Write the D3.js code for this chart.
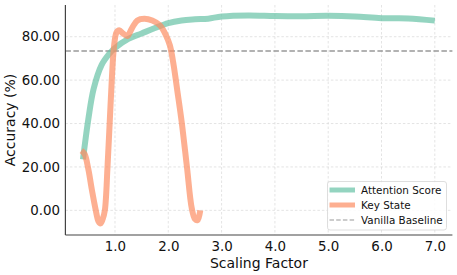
<!DOCTYPE html>
<html><head><meta charset="utf-8">
<script src="https://cdn.jsdelivr.net/npm/d3@7"></script>
<style>body{margin:0;background:#fff}svg{display:block;font-family:"DejaVu Sans",sans-serif}</style>
</head><body><svg id="c" width="457" height="275"></svg>
<script>
const attentionX = [0.4,0.5,0.6,0.75,0.9,1.0,1.25,1.5,1.75,2.0,2.25,2.5,2.75,3.0,3.5,4.0,4.5,5.0,5.5,6.0,6.5,7.0];
const attentionY = [23.5,42,56,67,72.3,74.8,79,81.5,84,86.3,87.5,88,88.3,89.3,89.8,89.5,89.4,89.6,89.3,88.5,88.4,87.4];
const keyX = [0.37,0.43,0.5,0.57,0.64,0.69,0.73,0.77,0.81,0.86,0.9,0.94,0.98,1.03,1.08,1.15,1.23,1.32,1.42,1.55,1.7,1.84,1.95,2.03,2.1,2.17,2.25,2.35,2.44,2.5,2.55,2.6];
const keyY = [27.5,26,19,9,0,-5,-6,-4,0,20,40,60,75,82,83,81.5,80.3,84,87.5,88.3,87.5,85.3,81,76,67,55,41,20,1,-4,-4.5,0];
const baseline = 73.4;
const xTicks = [1,2,3,4,5,6,7];
const yTicks = [0,20,40,60,80];
const seriesNames = ["Attention Score","Key State","Vanilla Baseline"];

const svg = d3.select("#c");
const m = {l:65.4, r:452.4, t:5, b:235};
const x = d3.scaleLinear().domain([0.07,7.33]).range([m.l,m.r]);
const y = d3.scaleLinear().domain([-11.35,94.6]).range([m.b,m.t]);

// grid
const g = svg.append("g");
g.selectAll("line.gx").data(xTicks).join("line")
  .attr("x1",d=>x(d)).attr("x2",d=>x(d)).attr("y1",m.t).attr("y2",m.b)
  .attr("stroke","#d8d8d8").attr("stroke-width",0.7).attr("stroke-dasharray","2.5,2");
g.selectAll("line.gy").data(yTicks).join("line")
  .attr("y1",d=>y(d)).attr("y2",d=>y(d)).attr("x1",m.l).attr("x2",m.r)
  .attr("stroke","#d8d8d8").attr("stroke-width",0.7).attr("stroke-dasharray","2.5,2");

// baseline
svg.append("line").attr("x1",m.l).attr("x2",m.r).attr("y1",y(baseline)).attr("y2",y(baseline))
  .attr("stroke","#999").attr("stroke-width",1.4).attr("stroke-dasharray","5.5,2.5");

const line = d3.line().x(d=>x(d[0])).y(d=>y(d[1])).curve(d3.curveCatmullRom.alpha(0.5));
svg.append("path").datum(attentionX.map((v,i)=>[v,attentionY[i]]))
  .attr("d",line).attr("fill","none").attr("stroke","#66c2a5").attr("stroke-opacity",0.7)
  .attr("stroke-width",6);
svg.append("path").datum(keyX.map((v,i)=>[v,keyY[i]]))
  .attr("d",line).attr("fill","none").attr("stroke","#fc8d62").attr("stroke-opacity",0.7)
  .attr("stroke-width",6).attr("stroke-linejoin","round");

// axes
const ax = svg.append("g").attr("transform",`translate(0,${m.b})`)
  .call(d3.axisBottom(x).tickValues(xTicks).tickFormat(d3.format(".1f")).tickSize(0).tickPadding(6));
const ay = svg.append("g").attr("transform",`translate(${m.l},0)`)
  .call(d3.axisLeft(y).tickValues(yTicks).tickFormat(d3.format(".2f")).tickSize(0).tickPadding(5.4));
[ax,ay].forEach(a=>{a.select(".domain").attr("stroke","#444").attr("stroke-width",1.2);
  a.selectAll("text").attr("font-size",13.4).attr("fill","#111").attr("font-family","DejaVu Sans");});
ay.select(".domain").attr("d",`M0,${m.b}V${m.t}`);
ax.select(".domain").attr("d",`M${m.l},0H${m.r}`);

svg.append("text").attr("x",(m.l+m.r)/2).attr("y",268).attr("text-anchor","middle")
  .attr("font-size",14).attr("fill","#111").text("Scaling Factor");
svg.append("text").attr("transform",`translate(15,120) rotate(-90)`).attr("text-anchor","middle")
  .attr("font-size",14).attr("fill","#111").text("Accuracy (%)");

// legend
const lg = svg.append("g");
lg.append("rect").attr("x",327.5).attr("y",181.5).attr("width",119).attr("height",48.5)
  .attr("rx",2.5).attr("fill","#fff").attr("fill-opacity",0.85).attr("stroke","#d5d5d5").attr("stroke-width",0.8);
const ly = [190,205,220];
seriesNames.forEach((n,i)=>{
  const l = lg.append("line").attr("x1",329.5).attr("x2",355).attr("y1",ly[i]).attr("y2",ly[i]);
  if(i===0) l.attr("stroke","#66c2a5").attr("stroke-opacity",0.7).attr("stroke-width",5);
  else if(i===1) l.attr("stroke","#fc8d62").attr("stroke-opacity",0.7).attr("stroke-width",5);
  else l.attr("stroke","#999").attr("stroke-width",1.2).attr("stroke-dasharray","4.5,2.2");
  lg.append("text").attr("x",361).attr("y",ly[i]+3.8).attr("font-size",10.4).attr("fill","#111").text(n);
});
</script></body></html>
